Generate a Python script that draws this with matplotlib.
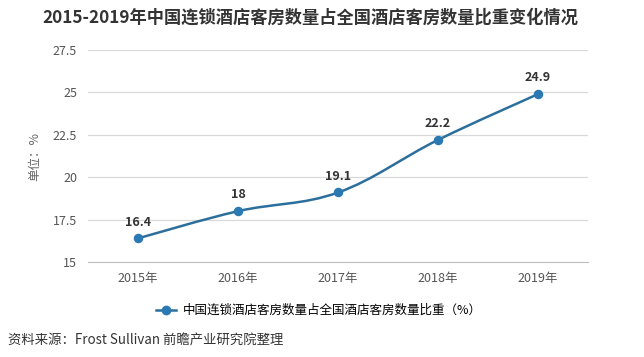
import matplotlib.pyplot as plt
from matplotlib.path import Path
from matplotlib.patches import PathPatch
from matplotlib.lines import Line2D

plt.rcParams['font.family'] = ['Noto Sans CJK SC', 'DejaVu Sans']

# --- Dados ---
years = ['2015年', '2016年', '2017年', '2018年', '2019年']
values = [16.4, 18, 19.1, 22.2, 24.9]
value_labels = ['16.4', '18', '19.1', '22.2', '24.9']
y_ticks = [15, 17.5, 20, 22.5, 25, 27.5]
y_tick_labels = ['15', '17.5', '20', '22.5', '25', '27.5']

title = '2015-2019年中国连锁酒店客房数量占全国酒店客房数量比重变化情况'
series_name = '中国连锁酒店客房数量占全国酒店客房数量比重（%）'
source = '资料来源：Frost Sullivan 前瞻产业研究院整理'

LINE_COLOR = '#2d6f9c'
MARKER_COLOR = '#2b79b3'

fig = plt.figure(figsize=(6.44, 3.57), dpi=100)
ax = fig.add_axes([0.137, 0.266, 0.776, 0.594])

x = list(range(len(years)))

# linha suavizada (curvas de Bezier cúbicas via Path)
verts = [(x[0], values[0])]
codes = [Path.MOVETO]
t = 0.18
for i in range(len(x) - 1):
    p0 = (x[i - 1], values[i - 1]) if i > 0 else (x[i], values[i])
    p1 = (x[i], values[i])
    p2 = (x[i + 1], values[i + 1])
    p3 = (x[i + 2], values[i + 2]) if i + 2 < len(x) else p2
    c1 = (p1[0] + (p2[0] - p0[0]) * t, p1[1] + (p2[1] - p0[1]) * t)
    c2 = (p2[0] - (p3[0] - p1[0]) * t, p2[1] - (p3[1] - p1[1]) * t)
    verts += [c1, c2, p2]
    codes += [Path.CURVE4] * 3
ax.add_patch(PathPatch(Path(verts, codes), facecolor='none',
                       edgecolor=LINE_COLOR, lw=1.8, zorder=3))
ax.scatter(x, values, s=34, color=MARKER_COLOR, zorder=4)

for xi, v, lab in zip(x, values, value_labels):
    ax.annotate(lab, (xi, v), xytext=(0, 7), textcoords='offset points',
                ha='center', va='bottom', fontsize=9, fontweight='bold',
                color='#333333')

ax.set_xlim(-0.5, len(years) - 0.5)
ax.set_ylim(15, 27.5)
ax.set_yticks(y_ticks)
ax.set_yticklabels(y_tick_labels)
ax.set_xticks(x)
ax.set_xticklabels(years)
ax.grid(axis='y', color='#d9d9d9', lw=0.9)
ax.set_axisbelow(True)
for s in ['top', 'right', 'left']:
    ax.spines[s].set_visible(False)
ax.spines['bottom'].set_color('#bfbfbf')
ax.tick_params(axis='y', length=0, pad=8, labelsize=9, labelcolor='#555555')
ax.tick_params(axis='x', length=0, pad=7, labelsize=9, labelcolor='#555555')
ax.set_ylabel('单位：%', fontsize=9, color='#666666', labelpad=8)

fig.text(0.482, 0.95, title, ha='center', va='center', fontsize=12.4,
         fontweight='bold', color='#333333')

handle = Line2D([0], [0], color=LINE_COLOR, lw=1.8, marker='o',
                markersize=6, markerfacecolor=MARKER_COLOR,
                markeredgecolor=MARKER_COLOR)
fig.legend([handle], [series_name], loc='center', bbox_to_anchor=(0.495, 0.13),
           frameon=False, fontsize=9, handlelength=1.6, handletextpad=0.5)

fig.text(0.012, 0.045, source, ha='left', va='center', fontsize=9.6,
         color='#333333')

fig.savefig('out.png', dpi=100)
